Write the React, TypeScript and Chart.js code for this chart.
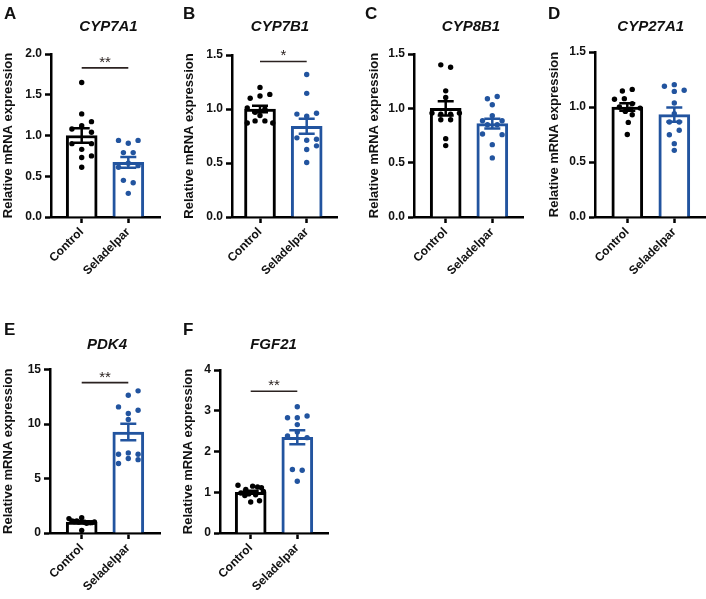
import React, { useEffect, useRef } from 'react';
import { Chart, registerables } from 'chart.js';

Chart.register(...registerables);

const FONT = "Arial, 'Liberation Sans', Helvetica, sans-serif";
const BLACK = '#000000';
const BLUE = '#22549f';
const INK = '#111111';
const SIG = '#2b2220';

Chart.defaults.font.family = FONT;
Chart.defaults.color = INK;

// ---------- data ----------
const groups = ['Control', 'Seladelpar'];
const yAxisTitle = 'Relative mRNA expression';

// A: CYP7A1
const meanA = [1.0, 0.67];
const semA = [0.09, 0.065];
const ctrlA = [1.65, 1.265, 1.17, 1.12, 1.08, 1.04, 0.9, 0.9, 0.83, 0.75, 0.73, 0.61];
const ctrlAJit = [0, 0, 1, 0, -1, 1, -1, 1, 0, 1, 0, 0];
const selA = [0.94, 0.905, 0.94, 0.79, 0.79, 0.61, 0.66, 0.63, 0.45, 0.42, 0.29];
const selAJit = [-1, 0, 1, -0.5, 0.5, -1, 0, 1, -0.5, 0.5, 0];

// B: CYP7B1
const meanB = [1.0, 0.84];
const semB = [0.03, 0.07];
const ctrlB = [1.2, 1.135, 1.12, 1.1, 1.01, 1.0, 0.97, 0.94, 0.89, 0.89, 0.87, 0.87];
const ctrlBJit = [0, 1, 0, -1, -1.3, 0.5, -0.5, 0, -0.5, 0.5, -1.3, 1.3];
const selB = [1.32, 1.145, 0.953, 0.934, 0.96, 0.733, 0.711, 0.72, 0.659, 0.625, 0.504];
const selBJit = [0, 0, -1, 0, 1, -1, 0, 1, 1, 0, 0];

// C: CYP8B1
const meanC = [1.0, 0.86];
const semC = [0.065, 0.045];
const ctrlC = [1.4, 1.378, 1.161, 1.1, 0.956, 0.947, 0.947, 0.956, 0.895, 0.895, 0.721, 0.657];
const ctrlCJit = [-0.5, 0.5, 0, 0, -1.4, -0.5, 0.5, 1.4, -0.5, 0.5, 0, 0];
const selC = [1.088, 1.109, 1.033, 0.932, 0.886, 0.886, 0.849, 0.849, 0.764, 0.758, 0.666, 0.544];
const selCJit = [-0.5, 0.5, 0, 0, -1, 1, -0.5, 0.5, -1, 1, 0, 0];

// D: CYP27A1
const meanD = [1.0, 0.93];
const semD = [0.035, 0.065];
const ctrlD = [1.16, 1.145, 1.076, 1.07, 1.03, 1.0, 0.99, 0.98, 0.96, 0.93, 0.86, 0.75];
const ctrlDJit = [0.5, -0.5, -0.3, -1.3, 0.5, -0.8, 1.3, 0.3, -0.2, 0.5, 0.1, 0];
const selD = [1.188, 1.203, 1.152, 1.142, 1.036, 0.939, 0.864, 0.864, 0.748, 0.788, 0.667, 0.606];
const selDJit = [-1, 0, 1, 0, 0, 0, -0.5, 0.5, -0.5, 0.5, 0, 0];

// E: PDK4
const meanE = [1.0, 9.27];
const semE = [0.08, 0.75];
const ctrlE = [1.32, 1.41, 0.24, 1.05, 1.0, 0.98, 0.95, 1.02, 1.1, 0.9, 0.95, 1.1];
const ctrlEJit = [-1.3, 0, 0, -0.8, -0.3, 0.3, 0.8, 1.3, -0.5, 0.5, 1, -1];
const selE = [13.04, 12.64, 11.57, 11.26, 10.96, 10.41, 7.22, 7.35, 7.22, 6.83, 6.73, 6.37];
const selEJit = [1, 0, -1, 1, 0, 0, -1, 0, 1, 0, 1, -1];

// F: FGF21
const meanF = [1.0, 2.35];
const semF = [0.035, 0.17];
const ctrlF = [1.17, 1.15, 1.13, 1.11, 1.07, 1.02, 0.98, 0.96, 0.94, 0.92, 0.79, 0.76];
const ctrlFJit = [-1.3, 0.2, 0.7, 1.1, -0.5, 1.3, -1, -0.2, 0.5, -0.6, 0.9, 0];
const selF = [3.1, 2.83, 2.83, 2.87, 2.66, 2.38, 2.34, 2.48, 1.56, 1.54, 1.27];
const selFJit = [0, -1, 0, 1, 0, -1, 1, 0, -0.5, 0.5, 0];

const letters = ['A', 'B', 'C', 'D', 'E', 'F'];
const genes = ['CYP7A1', 'CYP7B1', 'CYP8B1', 'CYP27A1', 'PDK4', 'FGF21'];
const yMaxes = [2, 1.5, 1.5, 1.5, 15, 4];
const ySteps = [0.5, 0.5, 0.5, 0.5, 5, 1];
const yDecimals = [1, 1, 1, 1, 0, 0];
const sigValues = [1.83, 1.44, null, null, 13.8, 3.48];
const sigStars = ['**', '*', '', '', '**', '**'];

// ---------- layout (page pixels) ----------
const boxes = [
  { rowTop: 0, axisX: 51, c0: 81.7, c1: 128.3, axisEnd: 160, top: 54, letterX: 4, letterY: 18.5, titleX: 108.5, titleY: 30.5, yTitleX: 8.5 },
  { rowTop: 0, axisX: 232, c0: 260, c1: 306.7, axisEnd: 337, top: 55, letterX: 183, letterY: 18.5, titleX: 280, titleY: 30.5, yTitleX: 189 },
  { rowTop: 0, axisX: 414, c0: 445.7, c1: 492.3, axisEnd: 523, top: 54, letterX: 365, letterY: 18.5, titleX: 471, titleY: 30.5, yTitleX: 374 },
  { rowTop: 0, axisX: 595, c0: 627.3, c1: 674.3, axisEnd: 705, top: 52, letterX: 548, letterY: 18.5, titleX: 650.7, titleY: 30.5, yTitleX: 554 },
  { rowTop: 316, axisX: 50, c0: 81.7, c1: 128.3, axisEnd: 160, top: 53.5, letterX: 4, letterY: 18.5, titleX: 107, titleY: 32.5, yTitleX: 8.5 },
  { rowTop: 316, axisX: 220, c0: 250.7, c1: 297.3, axisEnd: 328, top: 54, letterX: 183, letterY: 18.5, titleX: 273.5, titleY: 32.5, yTitleX: 188.7 },
];

const panelData = [
  { mean: meanA, sem: semA, ctrl: ctrlA, ctrlJit: ctrlAJit, sel: selA, selJit: selAJit },
  { mean: meanB, sem: semB, ctrl: ctrlB, ctrlJit: ctrlBJit, sel: selB, selJit: selBJit },
  { mean: meanC, sem: semC, ctrl: ctrlC, ctrlJit: ctrlCJit, sel: selC, selJit: selCJit },
  { mean: meanD, sem: semD, ctrl: ctrlD, ctrlJit: ctrlDJit, sel: selD, selJit: selDJit },
  { mean: meanE, sem: semE, ctrl: ctrlE, ctrlJit: ctrlEJit, sel: selE, selJit: selEJit },
  { mean: meanF, sem: semF, ctrl: ctrlF, ctrlJit: ctrlFJit, sel: selF, selJit: selFJit },
];

const Y_AXIS_W = 50;
const CANVAS_H = 282;
const PLOT_BOTTOM = 217;
const JIT_UNIT = 0.21;

function Panel({ idx }: { idx: number }) {
  const ref = useRef<HTMLCanvasElement | null>(null);
  const box = boxes[idx];
  const d = panelData[idx];
  const canvasLeft = box.axisX - Y_AXIS_W;
  const width = Math.round(box.axisEnd - canvasLeft + 4);

  useEffect(() => {
    if (!ref.current) return;
    const spacing = box.c1 - box.c0;
    const xMin = (box.axisX - box.c0) / spacing;
    const xMax = 1 + (box.axisEnd - box.c1) / spacing;
    const yTitleFont = 13;
    const yTitlePad = box.yTitleX - canvasLeft - yTitleFont / 2;

    const decor = {
      id: 'decor' + idx,
      afterDatasetsDraw(chart: any) {
        const { ctx, scales } = chart;
        const x = scales.x;
        const y = scales.y;
        ctx.save();
        // error bars (mean ± SEM)
        [0, 1].forEach((i) => {
          const px = x.getPixelForValue(i);
          const top = y.getPixelForValue(d.mean[i] + d.sem[i]);
          const bot = y.getPixelForValue(Math.max(0, d.mean[i] - d.sem[i]));
          ctx.strokeStyle = i === 0 ? BLACK : BLUE;
          ctx.lineWidth = 2.5;
          ctx.lineCap = 'butt';
          ctx.beginPath();
          ctx.moveTo(px, top);
          ctx.lineTo(px, bot);
          ctx.moveTo(px - 8, top);
          ctx.lineTo(px + 8, top);
          ctx.moveTo(px - 8, bot);
          ctx.lineTo(px + 8, bot);
          ctx.stroke();
        });
        // significance bar
        const sv = sigValues[idx];
        if (sv != null) {
          const ly = y.getPixelForValue(sv);
          const x0 = x.getPixelForValue(0);
          const x1 = x.getPixelForValue(1);
          ctx.strokeStyle = SIG;
          ctx.lineWidth = 1.6;
          ctx.beginPath();
          ctx.moveTo(x0, ly);
          ctx.lineTo(x1, ly);
          ctx.stroke();
          ctx.fillStyle = SIG;
          ctx.font = `15px ${FONT}`;
          ctx.textAlign = 'center';
          ctx.textBaseline = 'alphabetic';
          ctx.fillText(sigStars[idx], (x0 + x1) / 2, ly - 1);
        }
        // panel letter
        ctx.fillStyle = INK;
        ctx.font = `bold 17px ${FONT}`;
        ctx.textAlign = 'left';
        ctx.textBaseline = 'alphabetic';
        ctx.fillText(letters[idx], box.letterX - canvasLeft, box.letterY);
        // gene title
        ctx.font = `italic bold 15px ${FONT}`;
        ctx.textAlign = 'center';
        ctx.fillText(genes[idx], box.titleX - canvasLeft, box.titleY);
        ctx.restore();
      },
    };

    const chart = new Chart(ref.current, {
      type: 'bar',
      data: {
        datasets: [
          {
            type: 'bar',
            order: 1,
            data: [0, 1].map((i) => ({ x: i, y: d.mean[i] })),
            backgroundColor: '#ffffff',
            borderColor: [BLACK, BLUE],
            borderWidth: 3,
            borderSkipped: 'start',
            barThickness: 31,
          } as any,
          {
            type: 'scatter',
            order: 0,
            data: d.ctrl.map((v, k) => ({ x: 0 + d.ctrlJit[k] * JIT_UNIT, y: v })),
            backgroundColor: BLACK,
            borderWidth: 0,
            pointRadius: 2.7,
          } as any,
          {
            type: 'scatter',
            order: 0,
            data: d.sel.map((v, k) => ({ x: 1 + d.selJit[k] * JIT_UNIT, y: v })),
            backgroundColor: BLUE,
            borderWidth: 0,
            pointRadius: 2.7,
          } as any,
        ],
      },
      options: {
        responsive: false,
        animation: false,
        events: [],
        layout: { padding: { left: 0, top: box.top, right: 4, bottom: 0 } },
        plugins: {
          legend: { display: false },
          tooltip: { enabled: false },
          title: { display: false },
        },
        scales: {
          x: {
            type: 'linear',
            min: xMin,
            max: xMax,
            offset: false,
            afterFit: (s: any) => {
              s.height = CANVAS_H - PLOT_BOTTOM;
            },
            afterBuildTicks: (s: any) => {
              s.ticks = [{ value: 0 }, { value: 1 }];
            },
            ticks: {
              autoSkip: false,
              maxRotation: 45,
              minRotation: 45,
              padding: 2,
              color: INK,
              font: { size: 12, weight: 'bold', family: FONT },
              callback: (v: any) => groups[Math.round(Number(v))],
            },
            grid: {
              display: true,
              offset: false,
              drawOnChartArea: false,
              drawTicks: true,
              tickLength: 6,
              tickWidth: 2.5,
              tickColor: BLACK,
            },
            border: { display: true, color: BLACK, width: 2.5 },
          },
          y: {
            type: 'linear',
            min: 0,
            max: yMaxes[idx],
            afterFit: (s: any) => {
              s.width = Y_AXIS_W;
            },
            ticks: {
              stepSize: ySteps[idx],
              padding: 3,
              color: INK,
              font: { size: 12, weight: 'bold', family: FONT },
              callback: (v: any) => Number(v).toFixed(yDecimals[idx]),
            },
            grid: {
              display: true,
              drawOnChartArea: false,
              drawTicks: true,
              tickLength: 6,
              tickWidth: 2.5,
              tickColor: BLACK,
            },
            border: { display: true, color: BLACK, width: 2.5 },
            title: {
              display: true,
              text: yAxisTitle,
              color: INK,
              font: { size: yTitleFont, weight: 'bold', family: FONT, lineHeight: 1 },
              padding: { top: yTitlePad, bottom: 0 },
            },
          },
        },
      } as any,
      plugins: [decor],
    });
    return () => chart.destroy();
  }, [idx]);

  return (
    <canvas
      ref={ref}
      width={width}
      height={CANVAS_H}
      style={{ position: 'absolute', left: canvasLeft, top: box.rowTop, width, height: CANVAS_H }}
    />
  );
}

export default function App() {
  return (
    <div
      style={{
        position: 'absolute',
        left: 0,
        top: 0,
        width: 706,
        height: 599,
        overflow: 'hidden',
        background: '#ffffff',
      }}
    >
      {letters.map((_, i) => (
        <Panel key={i} idx={i} />
      ))}
    </div>
  );
}
